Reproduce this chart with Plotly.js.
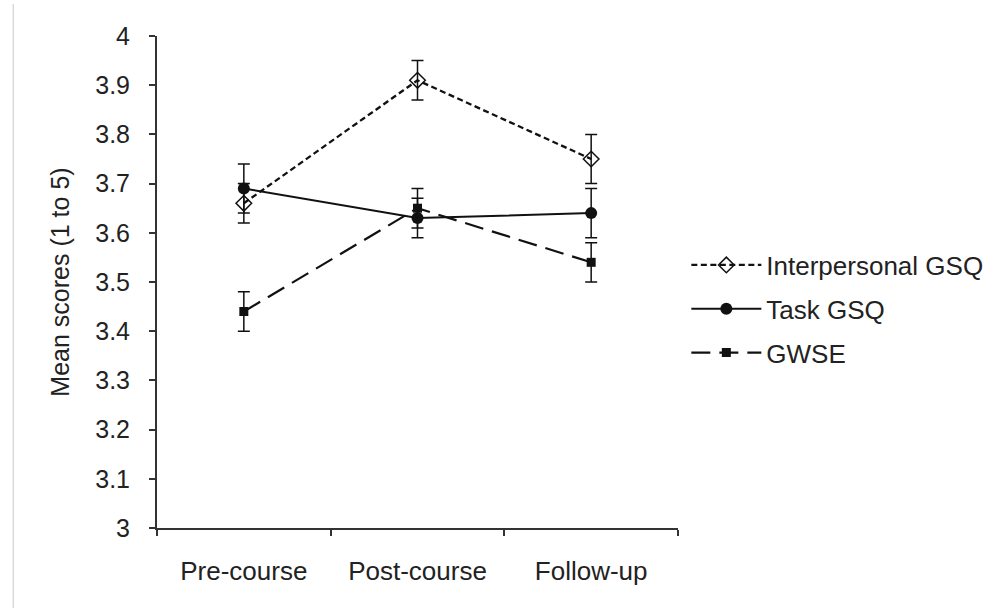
<!DOCTYPE html>
<html>
<head>
<meta charset="utf-8">
<script src="https://cdn.plot.ly/plotly-3.0.1.min.js"></script>
<style>html,body{margin:0;padding:0;background:#fff;}#chart{width:990px;height:608px;}</style>
</head>
<body>
<div id="chart"></div>
<script>
var categories = ["Pre-course", "Post-course", "Follow-up"];
var seriesNames = ["Interpersonal GSQ", "Task GSQ", "GWSE"];
var interpersonal = [3.66, 3.91, 3.75];
var interpersonalErr = [0.04, 0.04, 0.05];
var task = [3.69, 3.63, 3.64];
var taskErr = [0.05, 0.04, 0.05];
var gwse = [3.44, 3.65, 3.54];
var gwseErr = [0.04, 0.04, 0.04];
var yTickVals = [3, 3.1, 3.2, 3.3, 3.4, 3.5, 3.6, 3.7, 3.8, 3.9, 4];
var yTickText = ["3", "3.1", "3.2", "3.3", "3.4", "3.5", "3.6", "3.7", "3.8", "3.9", "4"];

var FONT = "Arial, 'Liberation Sans', Helvetica, sans-serif";

function errBar(arr) {
  return {type: "data", array: arr, visible: true, color: "#111", thickness: 1.5, width: 6};
}

var traces = [
  {
    x: categories, y: interpersonal, name: seriesNames[0], legendgroup: "a", type: "scatter", mode: "lines+markers",
    line: {color: "#111", width: 2.3, dash: "6px,3.5px"},
    marker: {symbol: "diamond-open", size: 12, color: "#111", line: {width: 1.5, color: "#111"}},
    error_y: errBar(interpersonalErr)
  },
  {
    x: categories, y: task, name: seriesNames[1], legendgroup: "b", type: "scatter", mode: "lines+markers",
    line: {color: "#111", width: 2},
    marker: {symbol: "circle", size: 12, color: "#111"},
    error_y: errBar(taskErr)
  },
  {
    x: categories, y: gwse, name: seriesNames[2], legendgroup: "c", type: "scatter", mode: "lines+markers",
    line: {color: "#111", width: 2.2, dash: "19px,9px"},
    marker: {symbol: "square", size: 9, color: "#111"},
    error_y: errBar(gwseErr)
  }
];

var layout = {
  width: 990, height: 608,
  paper_bgcolor: "#fff", plot_bgcolor: "#fff",
  margin: {l: 157, r: 312, t: 36, b: 80, pad: 0, autoexpand: false},
  font: {family: FONT, size: 25, color: "#222"},
  showlegend: true,
  legend: {
    x: 1.016, xanchor: "left", y: 0.445, yanchor: "middle",
    font: {family: FONT, size: 26, color: "#222"},
    itemwidth: 70, tracegroupgap: 7, traceorder: "grouped", bgcolor: "rgba(0,0,0,0)"
  },
  xaxis: {
    type: "category", range: [-0.5, 2.5],
    showline: true, linecolor: "#333", linewidth: 2,
    ticks: "outside", tickson: "boundaries", ticklen: 6, tickcolor: "#333", tickwidth: 2,
    showgrid: false, zeroline: false,
    tickfont: {family: FONT, size: 26, color: "#222"},
    ticklabelstandoff: 19
  },
  yaxis: {
    range: [3, 4],
    tickvals: yTickVals, ticktext: yTickText,
    showline: true, linecolor: "#333", linewidth: 2,
    ticks: "outside", ticklen: 6, tickcolor: "#333", tickwidth: 2,
    showgrid: false, zeroline: false,
    tickfont: {family: FONT, size: 25, color: "#222"},
    ticklabelstandoff: 14,
    title: {text: "Mean scores (1 to 5)", font: {family: FONT, size: 25, color: "#222"}, standoff: 18}
  },
  shapes: [
    {type: "line", xref: "paper", yref: "paper", x0: -0.276, x1: -0.276, y0: 1.065, y1: -0.17,
     line: {color: "#c8c8c8", width: 1}}
  ]
};

Plotly.newPlot("chart", traces, layout, {displayModeBar: false, staticPlot: true});
</script>
</body>
</html>
